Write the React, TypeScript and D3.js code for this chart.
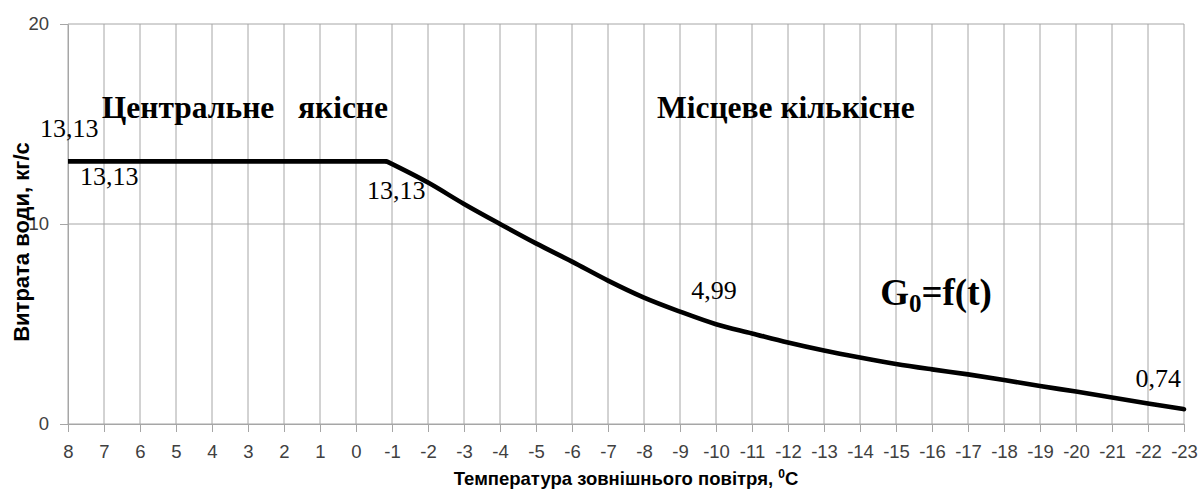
import React, { useEffect, useRef } from "react";
import * as d3 from "d3";

// outdoor temperature, °C  (the break of the flat part sits just past -1)
const temps = [8, 7, 6, 5, 4, 3, 2, 1, 0, -0.85, -2, -3, -4, -5, -6, -7, -8, -9, -10, -11, -12, -13, -14, -15, -16, -17, -18, -19, -20, -21, -22, -23];
// water flow, kg/s
const flow = [13.13, 13.13, 13.13, 13.13, 13.13, 13.13, 13.13, 13.13, 13.13, 13.13, 12.07, 11.0, 10.0, 9.03, 8.12, 7.17, 6.32, 5.62, 4.99, 4.53, 4.07, 3.67, 3.32, 3.0, 2.73, 2.48, 2.2, 1.9, 1.62, 1.33, 1.03, 0.74];

const xTicks = [8, 7, 6, 5, 4, 3, 2, 1, 0, -1, -2, -3, -4, -5, -6, -7, -8, -9, -10, -11, -12, -13, -14, -15, -16, -17, -18, -19, -20, -21, -22, -23];
const yTicks = [0, 10, 20];

// data labels: which point, what text
const labelPoints = [0, 0, 9, 18, 31];
const labelTexts = ["13,13", "13,13", "13,13", "4,99", "0,74"];

const zoneTexts = ["Центральне   якісне", "Місцеве кількісне"];
const zoneX = [7.06, -8.36];
const zoneY = [15.3, 15.3];

const xTitle = "Температура зовнішнього повітря, ";
const yTitle = "Витрата води, кг/с";

const Chart = () => {
    const svgRef = useRef(null);

    useEffect(() => {
        const width = 1200, height = 490;
        const left = 68, right = 1184, top = 24, bottom = 424;
        const sans = "'Liberation Sans', Arial, sans-serif";
        const serif = "'Liberation Serif', 'Times New Roman', serif";
        const grid = "#a6a6a6";

        const svg = d3.select(svgRef.current)
            .attr("width", width)
            .attr("height", height);

        svg.selectAll("*").remove();

        const x = d3.scaleLinear().domain([8, -23]).range([left, right]);
        const y = d3.scaleLinear().domain([0, 20]).range([bottom, top]);

        // grid
        svg.append("g").selectAll("line")
            .data(xTicks)
            .enter()
            .append("line")
            .attr("x1", d => x(d)).attr("x2", d => x(d))
            .attr("y1", top).attr("y2", bottom)
            .attr("stroke", grid).attr("stroke-width", 1);

        svg.append("g").selectAll("line")
            .data(yTicks)
            .enter()
            .append("line")
            .attr("x1", left).attr("x2", right)
            .attr("y1", d => y(d)).attr("y2", d => y(d))
            .attr("stroke", grid).attr("stroke-width", 1);

        const xAxis = d3.axisBottom(x)
            .tickValues(xTicks)
            .tickFormat(d => String(d))
            .tickSize(8)
            .tickPadding(13)
            .tickSizeOuter(0);

        const yAxis = d3.axisLeft(y)
            .tickValues(yTicks)
            .tickSize(8)
            .tickPadding(11)
            .tickSizeOuter(0);

        const gx = svg.append("g")
            .attr("transform", `translate(0,${bottom})`)
            .call(xAxis);
        const gy = svg.append("g")
            .attr("transform", `translate(${left},0)`)
            .call(yAxis);

        [gx, gy].forEach(g => {
            g.select(".domain").attr("stroke", grid);
            g.selectAll("line").attr("stroke", grid);
            g.selectAll("text")
                .attr("fill", "#404040")
                .style("font-family", sans)
                .style("font-size", "18.5px");
        });

        // flat part straight, falling part smooth
        const pts = temps.map((t, i) => [t, flow[i]]);
        const breakAt = 9;
        const line = d3.line().x(d => x(d[0])).y(d => y(d[1]));

        svg.append("path")
            .attr("d", line.curve(d3.curveLinear)(pts.slice(0, breakAt + 1)))
            .attr("fill", "none").attr("stroke", "#000").attr("stroke-width", 4.6);
        svg.append("path")
            .attr("d", line.curve(d3.curveMonotoneX)(pts.slice(breakAt)))
            .attr("fill", "none").attr("stroke", "#000").attr("stroke-width", 4.6)
            .attr("stroke-linecap", "round");

        // data labels
        const labelDx = [-28, 12, -19.5, -24.7, -3];
        const labelDy = [-24.4, 23.6, 38, -25, -22.5];
        labelPoints.forEach((p, i) => {
            svg.append("text")
                .attr("x", x(temps[p]) + labelDx[i])
                .attr("y", y(flow[p]) + labelDy[i])
                .attr("text-anchor", i === 4 ? "end" : "start")
                .style("font-family", serif)
                .style("font-size", "26px")
                .attr("fill", "#000")
                .text(labelTexts[i]);
        });

        // zone names
        zoneTexts.forEach((t, i) => {
            svg.append("text")
                .attr("x", x(zoneX[i]))
                .attr("y", y(zoneY[i]))
                .style("font-family", serif)
                .style("font-size", "31.5px")
                .style("font-weight", "bold")
                .style("white-space", "pre")
                .attr("fill", "#000")
                .text(t);
        });

        const g0 = svg.append("text")
            .attr("x", x(-14.56))
            .attr("y", y(5.95))
            .style("font-family", serif)
            .style("font-size", "37px")
            .style("font-weight", "bold")
            .attr("fill", "#000");
        g0.append("tspan").text("G");
        g0.append("tspan").attr("dy", 7).style("font-size", "25px").text("0");
        g0.append("tspan").attr("dy", -7).text("=f(t)");

        // axis titles
        const xt = svg.append("text")
            .attr("x", (left + right) / 2)
            .attr("y", 485)
            .attr("text-anchor", "middle")
            .style("font-family", sans)
            .style("font-size", "18.5px")
            .style("font-weight", "bold")
            .attr("fill", "#000");
        xt.append("tspan").text(xTitle);
        xt.append("tspan").attr("dy", -7).style("font-size", "12px").text("0");
        xt.append("tspan").attr("dy", 7).text("C");

        svg.append("text")
            .attr("transform", `translate(28.5,242) rotate(-90)`)
            .attr("text-anchor", "middle")
            .style("font-family", sans)
            .style("font-size", "22px")
            .style("font-weight", "bold")
            .attr("fill", "#000")
            .text(yTitle);
    }, []);

    return <svg ref={svgRef}></svg>;
};

export default function App() {
    return (
        <div style={{ position: "absolute", left: 0, top: 0 }}>
            <Chart />
        </div>
    );
}
